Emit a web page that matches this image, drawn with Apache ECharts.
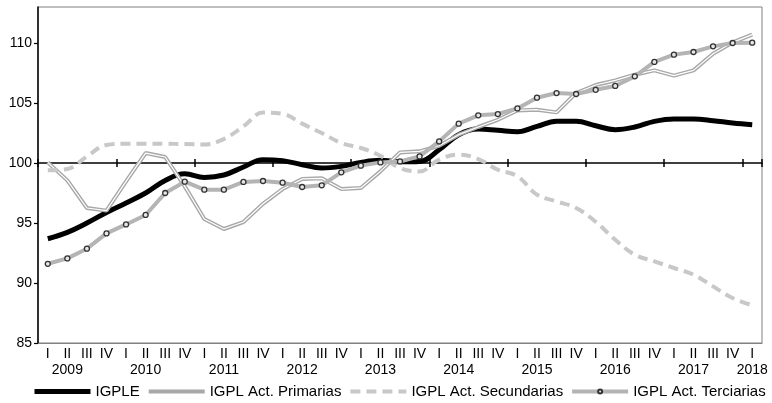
<!DOCTYPE html>
<html>
<head>
<meta charset="utf-8">
<script src="https://cdn.jsdelivr.net/npm/echarts@6/dist/echarts.min.js"></script>
<style>
html,body{margin:0;padding:0;background:#fff;}
#chart{width:772px;height:403px;}
</style>
</head>
<body>
<div id="chart"></div>
<script>
const categories = [
  '2009 I','2009 II','2009 III','2009 IV',
  '2010 I','2010 II','2010 III','2010 IV',
  '2011 I','2011 II','2011 III','2011 IV',
  '2012 I','2012 II','2012 III','2012 IV',
  '2013 I','2013 II','2013 III','2013 IV',
  '2014 I','2014 II','2014 III','2014 IV',
  '2015 I','2015 II','2015 III','2015 IV',
  '2016 I','2016 II','2016 III','2016 IV',
  '2017 I','2017 II','2017 III','2017 IV',
  '2018 I'
];
const igple = [93.69, 94.22, 95.0, 95.88, 96.67, 97.5, 98.55, 99.1, 98.8, 99.0,
  99.67, 100.28, 100.19, 99.86, 99.58, 99.72, 100.05, 100.22, 100.1, 100.13,
  101.1, 102.36, 102.83, 102.72, 102.6, 103.05, 103.47, 103.47, 103.1, 102.78,
  103.0, 103.47, 103.67, 103.67, 103.53, 103.33, 103.19];
const primarias = [100.05, 98.55, 96.25, 96.03, 98.47, 100.83, 100.5, 98.05, 95.33, 94.5,
  95.08, 96.6, 97.83, 98.67, 98.72, 97.83, 97.92, 99.3, 100.88, 100.97,
  101.44, 102.36, 103.0, 103.6, 104.38, 104.44, 104.22, 105.83, 106.5, 106.88,
  107.36, 107.72, 107.28, 107.72, 109.1, 110.05, 110.7];
const secundarias = [99.4, 99.5, 100.55, 101.5, 101.6, 101.6, 101.6, 101.58, 101.55, 102.0,
  103.05, 104.2, 104.1, 103.28, 102.5, 101.67, 101.25, 100.6, 99.58, 99.3,
  100.28, 100.69, 100.33, 99.44, 98.9, 97.36, 96.8, 96.25, 95.1, 93.6,
  92.36, 91.8, 91.25, 90.69, 89.72, 88.75, 88.14];
const terciarias = [91.6, 92.05, 92.86, 94.13, 94.88, 95.67, 97.5, 98.44, 97.78, 97.78,
  98.42, 98.5, 98.36, 98.0, 98.14, 99.22, 99.78, 100.05, 100.13, 100.55,
  101.8, 103.28, 103.97, 104.08, 104.55, 105.44, 105.83, 105.75, 106.1, 106.42,
  107.22, 108.42, 109.03, 109.25, 109.72, 110.0, 110.03];
const yTicks = [85, 90, 95, 100, 105, 110];
const seriesNames = ['IGPLE', 'IGPL Act. Primarias', 'IGPL Act. Secundarias', 'IGPL Act. Terciarias'];

const FONT = 'Liberation Sans, Arial, sans-serif';
const chart = echarts.init(document.getElementById('chart'), null, {renderer: 'canvas'});

const baseOffset = -180; // moves category axis up to the 100 line

const hiddenSymbol = {opacity: 0, borderWidth: 0};

const option = {
  animation: false,
  backgroundColor: '#fff',
  grid: {left: 38, right: 10, top: 7, bottom: 60, show: true, borderColor: '#808080', borderWidth: 1},
  legend: {
    data: [
      {name: seriesNames[0], itemStyle: hiddenSymbol, lineStyle: {width: 5}},
      {name: seriesNames[1], itemStyle: hiddenSymbol, lineStyle: {width: 4}},
      {name: seriesNames[2], itemStyle: hiddenSymbol, lineStyle: {width: 4}},
      {name: seriesNames[3], lineStyle: {width: 4}}
    ],
    left: 32, top: 384, width: 740, padding: 0,
    itemWidth: 56, itemHeight: 5, itemGap: 7,
    textStyle: {fontFamily: FONT, fontSize: 15, color: '#000'}
  },
  xAxis: [
    {
      type: 'category', data: categories, position: 'bottom', boundaryGap: true,
      axisLine: {show: true, lineStyle: {color: '#808080', width: 1}},
      axisTick: {show: false},
      axisLabel: {
        interval: 0, margin: 3, fontFamily: FONT, fontSize: 14, color: '#000',
        formatter: function (v, i) {
          const parts = v.split(' ');
          const showYear = parts[1] === 'II' || i === categories.length - 1;
          return '{q|' + parts[1] + '}\n{y|' + (showYear ? parts[0] : ' ') + '}';
        },
        rich: {
          q: {fontFamily: FONT, fontSize: 14, color: '#000', lineHeight: 16},
          y: {fontFamily: FONT, fontSize: 14, color: '#000', lineHeight: 16}
        }
      },
      splitLine: {show: false}
    },
    {
      type: 'category', data: categories, position: 'bottom', offset: baseOffset, boundaryGap: true,
      axisLine: {show: true, lineStyle: {color: '#000', width: 1.5}},
      axisTick: {show: true, inside: true, length: 4, interval: 3, lineStyle: {color: '#000', width: 1.5}},
      axisLabel: {show: false},
      splitLine: {show: false}
    },
    {
      type: 'category', data: categories, position: 'bottom', offset: baseOffset, boundaryGap: true,
      axisLine: {show: false},
      axisTick: {show: true, inside: false, length: 4, interval: 3, lineStyle: {color: '#000', width: 1.5}},
      axisLabel: {show: false},
      splitLine: {show: false}
    }
  ],
  yAxis: {
    type: 'value', min: 85, max: 113, interval: 5,
    axisLine: {show: true, lineStyle: {color: '#000', width: 1.5}},
    axisTick: {show: true, length: 4, customValues: yTicks, lineStyle: {color: '#000', width: 1.2}},
    axisLabel: {customValues: yTicks, margin: 6, fontFamily: FONT, fontSize: 14, color: '#000'},
    splitLine: {show: false}
  },
  series: [
    {
      name: seriesNames[0], type: 'line', data: igple, smooth: 0.4, symbol: 'none',
      lineStyle: {color: '#000', width: 5}, itemStyle: {color: '#000'}, z: 2
    },
    {
      name: seriesNames[1], type: 'line', data: primarias, symbol: 'none',
      lineStyle: {color: '#a8a8a8', width: 4}, itemStyle: {color: '#a8a8a8'}, z: 3
    },
    {
      name: 'primarias-inner', type: 'line', data: primarias, symbol: 'none',
      lineStyle: {color: '#ffffff', width: 1.2}, z: 3, silent: true
    },
    {
      name: seriesNames[2], type: 'line', data: secundarias, smooth: 0.4, symbol: 'none',
      lineStyle: {color: '#c8c8c8', width: 4, type: [10, 6]}, itemStyle: {color: '#c8c8c8'}, z: 4
    },
    {
      name: seriesNames[3], type: 'line', data: terciarias, symbol: 'circle', symbolSize: 5,
      showSymbol: true, showAllSymbol: true,
      lineStyle: {color: '#b4b4b4', width: 4},
      itemStyle: {color: '#e6e6e6', borderColor: '#333', borderWidth: 1.3}, z: 5
    }
  ]
};
chart.setOption(option);
</script>
</body>
</html>
